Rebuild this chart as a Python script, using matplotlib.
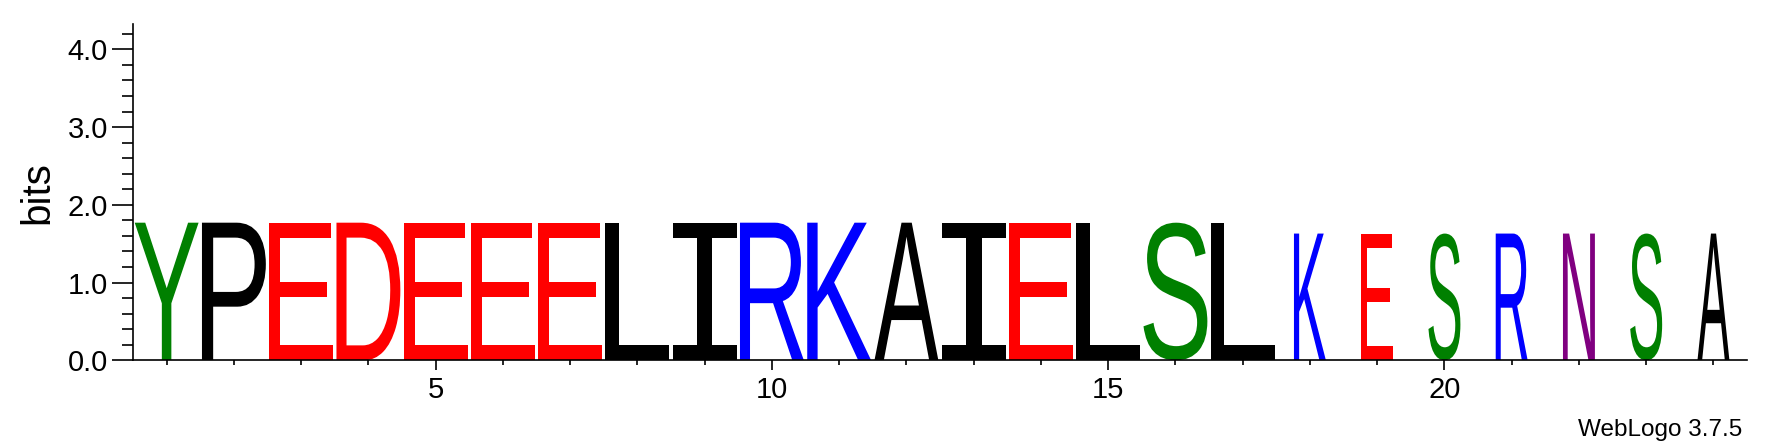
import matplotlib
matplotlib.use('Agg')
import matplotlib.pyplot as plt
from matplotlib.textpath import TextPath
from matplotlib.patches import PathPatch
from matplotlib.font_manager import FontProperties
from matplotlib.transforms import Affine2D
from matplotlib.ticker import MultipleLocator, FormatStrFormatter

# sequence logo data, one stack per position
positions = list(range(1, 25))
letters = ['Y', 'P', 'E', 'D', 'E', 'E', 'E', 'L', 'I', 'R', 'K', 'A',
           'I', 'E', 'L', 'S', 'L', 'K', 'E', 'S', 'R', 'N', 'S', 'A']
bits = [1.77, 1.77, 1.77, 1.77, 1.77, 1.77, 1.77, 1.77, 1.77, 1.77, 1.77, 1.77,
        1.77, 1.77, 1.77, 1.77, 1.77, 1.63, 1.63, 1.63, 1.63, 1.63, 1.63, 1.63]
# fraction of sequences without a gap (scales the stack width)
coverage = [1.0, 1.0, 1.0, 1.0, 1.0, 1.0, 1.0, 1.0, 1.0, 1.0, 1.0, 1.0,
            1.0, 1.0, 1.0, 1.0, 1.0, 0.5, 0.5, 0.5, 0.5, 0.5, 0.5, 0.5]

# chemistry colour scheme
colors = {'G': '#008000', 'S': '#008000', 'T': '#008000', 'Y': '#008000', 'C': '#008000',
          'N': '#800080', 'Q': '#800080',
          'K': '#0000FF', 'R': '#0000FF', 'H': '#0000FF',
          'D': '#FF0000', 'E': '#FF0000'}

plt.rcParams['font.family'] = ['Liberation Sans', 'DejaVu Sans']

fig = plt.figure(figsize=(17.69, 4.44), dpi=100)
ax = fig.add_axes([0.0752, 0.1885, 0.9124, 0.7565])

glyph_font = FontProperties(family='Liberation Sans')
i_font = FontProperties(family='DejaVu Sans Mono')

for x, c, h, cov in zip(positions, letters, bits, coverage):
    fp = i_font if c == 'I' else glyph_font
    tp = TextPath((0, 0), c, size=1, prop=fp)
    bb = tp.get_extents()
    w = 0.95 * cov
    tr = (Affine2D().translate(-bb.x0, -bb.y0)
          .scale(w / bb.width, h / bb.height)
          .translate(x - w / 2, 0)) + ax.transData
    ax.add_patch(PathPatch(tp, transform=tr, facecolor=colors.get(c, 'black'),
                           edgecolor='none', lw=0))

ax.set_xlim(0.5, 24.5)
ax.set_ylim(0, 4.32)

for s in ['top', 'right']:
    ax.spines[s].set_visible(False)
for s in ['left', 'bottom']:
    ax.spines[s].set_linewidth(1.2)

ax.xaxis.set_major_locator(MultipleLocator(5))
ax.xaxis.set_minor_locator(MultipleLocator(1))
ax.yaxis.set_major_locator(MultipleLocator(1))
ax.yaxis.set_minor_locator(MultipleLocator(0.2))
ax.yaxis.set_major_formatter(FormatStrFormatter('%.1f'))

ax.tick_params(axis='x', which='major', length=7.5, width=1.2, labelsize=21, pad=4)
ax.tick_params(axis='x', which='minor', length=3.8, width=1.2)
ax.tick_params(axis='y', which='major', length=15, width=1.2, labelsize=21, pad=3)
ax.tick_params(axis='y', which='minor', length=8, width=1.2)

ax.set_ylabel('bits', fontsize=29, labelpad=8)

fig.text(0.9847, 0.018, 'WebLogo 3.7.5', ha='right', va='baseline', fontsize=17.5)

plt.savefig('out.png', dpi=100)
plt.close()
